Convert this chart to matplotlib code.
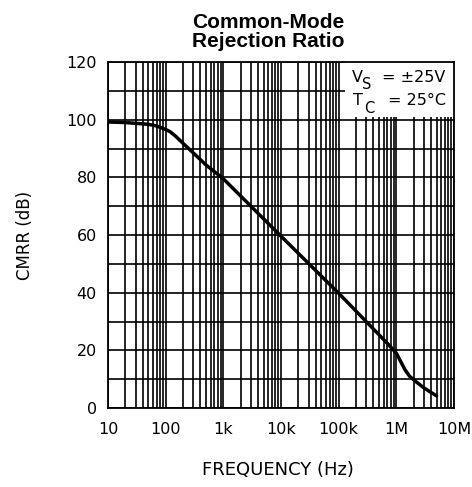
import matplotlib
matplotlib.use("Agg")
import matplotlib.pyplot as plt
from matplotlib.ticker import LogLocator, FixedLocator, MultipleLocator, NullFormatter
from matplotlib.patches import Rectangle

# curve
freq_hz = [10, 20, 50, 70, 100, 120, 150, 200, 300, 500, 1e3, 1e4, 1e5, 7e5, 1e6,
           1.2e6, 1.4e6, 1.7e6, 2.2e6, 3e6, 4e6, 5e6]
cmrr_db = [99.2, 99.0, 98.4, 97.8, 96.6, 95.8, 94.2, 91.8, 88.5, 84.3, 79.5, 59.6, 39.8,
           22.4, 19.0, 16.0, 13.4, 11.0, 9.1, 7.0, 5.4, 4.2]

xtick_vals = [10, 100, 1e3, 1e4, 1e5, 1e6, 1e7]
xtick_labels = ["10", "100", "1k", "10k", "100k", "1M", "10M"]
ytick_vals = [0, 20, 40, 60, 80, 100, 120]

W, H = 472, 487
fig = plt.figure(figsize=(W / 100, H / 100), dpi=100)
ax = fig.add_axes([108 / W, (H - 408) / H, 346 / W, 346 / H])

ax.set_xscale("log")
ax.set_xlim(10, 1e7)
ax.set_ylim(0, 120)

ax.xaxis.set_major_locator(FixedLocator(xtick_vals))
ax.set_xticks(xtick_vals)
ax.set_xticklabels(xtick_labels)
ax.xaxis.set_minor_locator(LogLocator(base=10, subs=range(2, 10), numticks=20))
ax.xaxis.set_minor_formatter(NullFormatter())
ax.set_yticks(ytick_vals)
ax.yaxis.set_minor_locator(MultipleLocator(10))

ax.tick_params(which="both", length=0)
ax.tick_params(axis="y", pad=8, labelsize=11.5)
ax.tick_params(axis="x", pad=10, labelsize=11.5)

ax.set_axisbelow(True)
ax.grid(which="both", color="black", linewidth=1.2)
for s in ax.spines.values():
    s.set_linewidth(1.3)

ax.plot(freq_hz, cmrr_db, color="black", linewidth=2.5, zorder=3,
        solid_capstyle="round", solid_joinstyle="round")

# white box behind the conditions text
ax.add_patch(Rectangle((1.3e5, 100.8), 1e7 - 1.3e5, 19.2, facecolor="white",
                       edgecolor="none", zorder=2))

# conditions, with large subscripts as in the reference
cond_fs = 11.5
sub_fs = 10.5
fig.text(352 / W, 1 - 82 / H, "V", ha="left", va="baseline", fontsize=cond_fs)
fig.text(362 / W, 1 - 89 / H, "S", ha="left", va="baseline", fontsize=sub_fs)
fig.text(445 / W, 1 - 82 / H, "= ±25V", ha="right", va="baseline", fontsize=cond_fs)
fig.text(353 / W, 1 - 105 / H, "T", ha="left", va="baseline", fontsize=cond_fs)
fig.text(364 / W, 1 - 113 / H, "C", ha="left", va="baseline", fontsize=sub_fs)
fig.text(446 / W, 1 - 105 / H, "= 25°C", ha="right", va="baseline", fontsize=cond_fs)

fig.text(268 / W, 1 - 28 / H, "Common-Mode", ha="center", va="baseline",
         fontsize=15, fontweight="bold", family="Liberation Sans")
fig.text(268 / W, 1 - 47 / H, "Rejection Ratio", ha="center", va="baseline",
         fontsize=15, fontweight="bold", family="Liberation Sans")

fig.text(278 / W, 1 - 475 / H, "FREQUENCY (Hz)", ha="center", va="baseline", fontsize=13)
fig.text(25 / W, 1 - 235 / H, "CMRR (dB)", ha="center", va="center", rotation=90, fontsize=12)

fig.savefig("out.png", dpi=100)
